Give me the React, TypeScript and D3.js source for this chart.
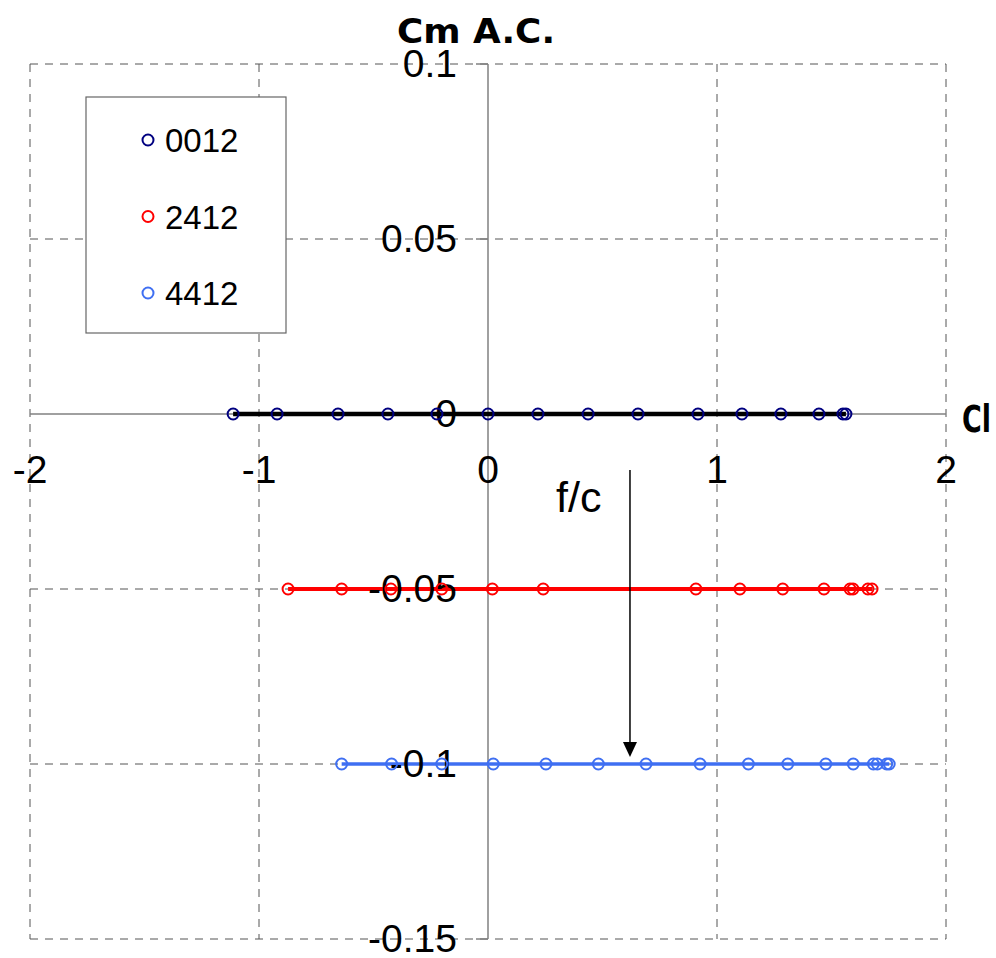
import React from "react";
import * as d3 from "d3";

// ---- data ----
const cl0012 = [-1.113, -0.921, -0.655, -0.437, -0.223, 0, 0.218, 0.437, 0.655, 0.917, 1.109, 1.279, 1.445, 1.55, 1.563];
const cm0012 = cl0012.map(() => 0);
const cl2412 = [-0.873, -0.639, -0.424, -0.202, 0.019, 0.241, 0.908, 1.1, 1.287, 1.467, 1.581, 1.594, 1.659, 1.677];
const cm2412 = cl2412.map(() => -0.05);
const cl4412 = [-0.639, -0.421, -0.202, 0.023, 0.253, 0.482, 0.69, 0.926, 1.137, 1.309, 1.475, 1.595, 1.683, 1.7, 1.741, 1.752];
const cm4412 = cl4412.map(() => -0.1);

const seriesNames = ["0012", "2412", "4412"];
const xTicks = [-2, -1, 0, 1, 2];
const xTickLabels = ["-2", "-1", "0", "1", "2"];
const yTicks = [0.1, 0.05, 0, -0.05, -0.1, -0.15];
const yTickLabels = ["0.1", "0.05", "0", "-0.05", "-0.1", "-0.15"];

const W = 996;
const H = 958;

export default function App() {
  const x = d3.scaleLinear().domain([-2, 2]).range([30, 946]);
  const y = d3.scaleLinear().domain([-0.15, 0.1]).range([939, 64]);

  const series = [
    { name: seriesNames[0], xs: cl0012, ys: cm0012, marker: "#000080", line: "#000000", lw: 4.5 },
    { name: seriesNames[1], xs: cl2412, ys: cm2412, marker: "#ff0000", line: "#ff0000", lw: 4 },
    { name: seriesNames[2], xs: cl4412, ys: cm4412, marker: "#3f6ff2", line: "#3f6ff2", lw: 3.5 },
  ];

  const lineGen = d3
    .line<[number, number]>()
    .x((d) => x(d[0]))
    .y((d) => y(d[1]));

  const gridX = [-2, -1, 1, 2];
  const gridY = [0.1, 0.05, -0.05, -0.1, -0.15];
  const font = "'Liberation Sans', Arial, Helvetica, sans-serif";
  const comic = "'Comic Sans MS', 'DejaVu Sans', sans-serif";

  // annotation arrow (data coords)
  const arrowX = 0.62;
  const arrowY0 = -0.016;
  const arrowY1 = -0.098;

  return (
    <svg
      width={W}
      height={H}
      style={{ position: "absolute", left: 0, top: 0, background: "#fff" }}
      xmlns="http://www.w3.org/2000/svg"
    >
      <rect x={0} y={0} width={W} height={H} fill="#fff" />
      {/* grid */}
      <g stroke="#555" strokeWidth={1} strokeDasharray="8 7" fill="none">
        {gridX.map((v) => (
          <line key={"gx" + v} x1={x(v)} x2={x(v)} y1={y(0.1)} y2={y(-0.15)} />
        ))}
        {gridY.map((v) => (
          <line key={"gy" + v} x1={x(-2)} x2={x(2)} y1={y(v)} y2={y(v)} />
        ))}
      </g>
      {/* axes */}
      <g stroke="#808080" strokeWidth={1.5}>
        <line x1={x(-2)} x2={x(2)} y1={y(0)} y2={y(0)} />
        <line x1={x(0)} x2={x(0)} y1={y(0.1)} y2={y(-0.15)} />
        {yTicks.map((v) => (
          <line key={"yt" + v} x1={x(0) - 12} x2={x(0)} y1={y(v)} y2={y(v)} />
        ))}
      </g>
      {/* lines */}
      {series.map((s) => (
        <path
          key={"l" + s.name}
          d={lineGen(s.xs.map((v, i) => [v, s.ys[i]] as [number, number])) || ""}
          fill="none"
          stroke={s.line}
          strokeWidth={s.lw}
        />
      ))}
      {/* tick labels */}
      <g fontFamily={font} fontSize={39} fill="#000">
        {yTicks.map((v, i) => (
          <text key={"yl" + v} x={457} y={y(v) + 13} textAnchor="end">
            {yTickLabels[i]}
          </text>
        ))}
        {xTicks.map((v, i) => (
          <text key={"xl" + v} x={x(v)} y={483} textAnchor="middle">
            {xTickLabels[i]}
          </text>
        ))}
      </g>
      {/* markers */}
      {series.map((s) => (
        <g key={"m" + s.name} fill="none" stroke={s.marker} strokeWidth={2}>
          {s.xs.map((v, i) => (
            <circle key={i} cx={x(v)} cy={y(s.ys[i])} r={5.5} />
          ))}
        </g>
      ))}
      {/* axis titles */}
      <text x={476} y={43} textAnchor="middle" fontFamily={comic} fontWeight="bold" fontSize={34} textLength={158} lengthAdjust="spacingAndGlyphs">
        Cm A.C.
      </text>
      <text x={962} y={432} fontFamily={comic} fontWeight="bold" fontSize={37} textLength={29} lengthAdjust="spacingAndGlyphs">
        Cl
      </text>
      {/* annotation */}
      <text x={556} y={512} fontFamily={font} fontSize={43}>
        f/c
      </text>
      <line x1={x(arrowX)} x2={x(arrowX)} y1={y(arrowY0)} y2={y(arrowY1) - 12} stroke="#000" strokeWidth={1.5} />
      <path
        d={`M${x(arrowX) - 7},${y(arrowY1) - 15} L${x(arrowX) + 7},${y(arrowY1) - 15} L${x(arrowX)},${y(arrowY1)} Z`}
        fill="#000"
      />
      {/* legend */}
      <g>
        <rect x={86} y={97} width={200} height={236} fill="#fff" stroke="#666" strokeWidth={1.2} />
        {series.map((s, i) => (
          <g key={"lg" + s.name}>
            <circle cx={148} cy={140 + i * 76.5} r={5.5} fill="none" stroke={s.marker} strokeWidth={2} />
            <text x={165} y={140 + i * 76.5 + 12} fontFamily={font} fontSize={33}>
              {s.name}
            </text>
          </g>
        ))}
      </g>
    </svg>
  );
}
